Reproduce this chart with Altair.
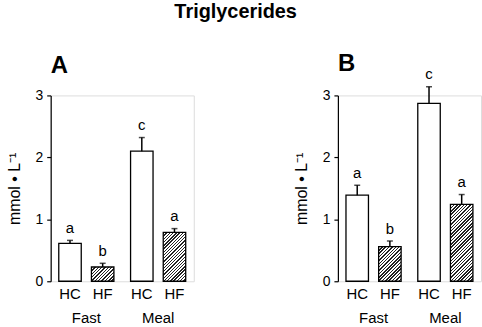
import altair as alt
import pandas as pd

conditions = ["Fast", "Fast", "Meal", "Meal"]
diets = ["HC", "HF", "HC", "HF"]

a_mean = [0.61, 0.23, 2.10, 0.79]
a_sem = [0.05, 0.06, 0.22, 0.06]
a_letters = ["a", "b", "c", "a"]

b_mean = [1.39, 0.56, 2.87, 1.24]
b_sem = [0.16, 0.09, 0.27, 0.16]
b_letters = ["a", "b", "c", "a"]

FONT = "Liberation Sans"
W = 144
H = 187
PI, PO = 0.232, 0.1126
PI2, PO2 = 0.312, 0.0
YMAX = 3

step = W / (2 - PI + 2 * PO)
bandw = step * (1 - PI)
bar_w = bandw / (2 - PI2 + 2 * PO2) * (1 - PI2)


def hatch(h, period=2.3, dark=0.45):
    w = bar_w
    k = w / max(h, 1.0)
    b = (k + 1) / (k * k + 1)
    a = k * b
    total = (w + h) / 2 ** 0.5
    n = max(1, int(total / period))
    stops = []
    for i in range(n):
        t0 = i / n
        t1 = (i + dark) / n
        t2 = (i + 1) / n
        stops.append(alt.GradientStop(offset=t0, color="#222222"))
        stops.append(alt.GradientStop(offset=t1, color="#222222"))
        stops.append(alt.GradientStop(offset=t1, color="#ffffff"))
        stops.append(alt.GradientStop(offset=t2, color="#ffffff"))
    return alt.LinearGradient(gradient="linear", x1=0, y1=0, x2=a, y2=b, stops=stops)


def panel(means, sems, letters, label, title_offset):
    df = pd.DataFrame({
        "condition": conditions,
        "diet": diets,
        "mean": means,
        "top": [m + s for m, s in zip(means, sems)],
        "letter": letters,
    })
    xenc = alt.X(
        "condition:N",
        scale=alt.Scale(paddingInner=PI, paddingOuter=PO),
        axis=alt.Axis(title=None, labelAngle=0, domain=False, ticks=False,
                      labelPadding=29, labelFontSize=15, labelColor="black",
                      labelFont=FONT),
    )
    xoff = alt.XOffset("diet:N", scale=alt.Scale(paddingInner=PI2, paddingOuter=PO2))
    yscale = alt.Scale(domain=[0, YMAX])
    base = alt.Chart(df).encode(x=xenc, xOffset=xoff)

    hc = base.transform_filter(alt.datum.diet == "HC").mark_bar(
        fill="white", stroke="black", strokeWidth=1.3
    ).encode(
        y=alt.Y("mean:Q", scale=yscale,
                axis=alt.Axis(values=[0, 1, 2, 3], format="d", title="mmol • L⁻¹",
                              titleFontSize=16, titleFontWeight="normal",
                              titleFont=FONT, labelFont=FONT,
                              labelFontSize=14, tickSize=4, labelPadding=4,
                              titlePadding=13, domainColor="black",
                              tickColor="black", labelColor="black",
                              titleColor="black", grid=False, domainWidth=1.2,
                              tickWidth=1.2))
    )
    layers = [hc]
    for cond, diet, m in zip(conditions, diets, means):
        if diet != "HF":
            continue
        h = m * H / YMAX
        layers.append(
            base.transform_filter(
                (alt.datum.diet == diet) & (alt.datum.condition == cond)
            ).mark_bar(fill=hatch(h), stroke="black", strokeWidth=1.3)
            .encode(y=alt.Y("mean:Q", scale=yscale))
        )
    err = base.mark_rule(strokeWidth=1.5, color="black").encode(
        y=alt.Y("mean:Q", scale=yscale), y2="top:Q")
    cap = base.mark_tick(orient="horizontal", size=6, thickness=1.5, color="black").encode(
        y=alt.Y("top:Q", scale=yscale))
    let = base.mark_text(dy=-12.5, fontSize=15, font=FONT, baseline="middle",
                         color="black").encode(
        y=alt.Y("top:Q", scale=yscale), text="letter:N")
    dl = base.mark_text(dy=13, fontSize=15, font=FONT, baseline="middle",
                        color="black").encode(
        y=alt.datum(0), text="diet:N")
    layers += [err, cap, let, dl]
    return alt.layer(*layers).properties(
        width=W, height=H,
        title=alt.Title(label, anchor="start", frame="group", fontSize=24,
                        fontWeight="bold", font=FONT, offset=title_offset,
                        color="black"),
    )


pa = panel(a_mean, a_sem, a_letters, "A", 11)
pb = panel(b_mean, b_sem, b_letters, "B", -9)

chart = alt.hconcat(pa, pb, spacing=98).properties(
    title=alt.Title("Triglycerides", fontSize=20, fontWeight="bold", font=FONT,
                    anchor="middle", color="black", offset=30, dx=-8),
    padding={"left": 5, "top": 1, "right": 0, "bottom": 0},
).configure_view(stroke=None).configure(font=FONT)

chart.save("out.html", embed_options={"renderer": "svg", "actions": False})
